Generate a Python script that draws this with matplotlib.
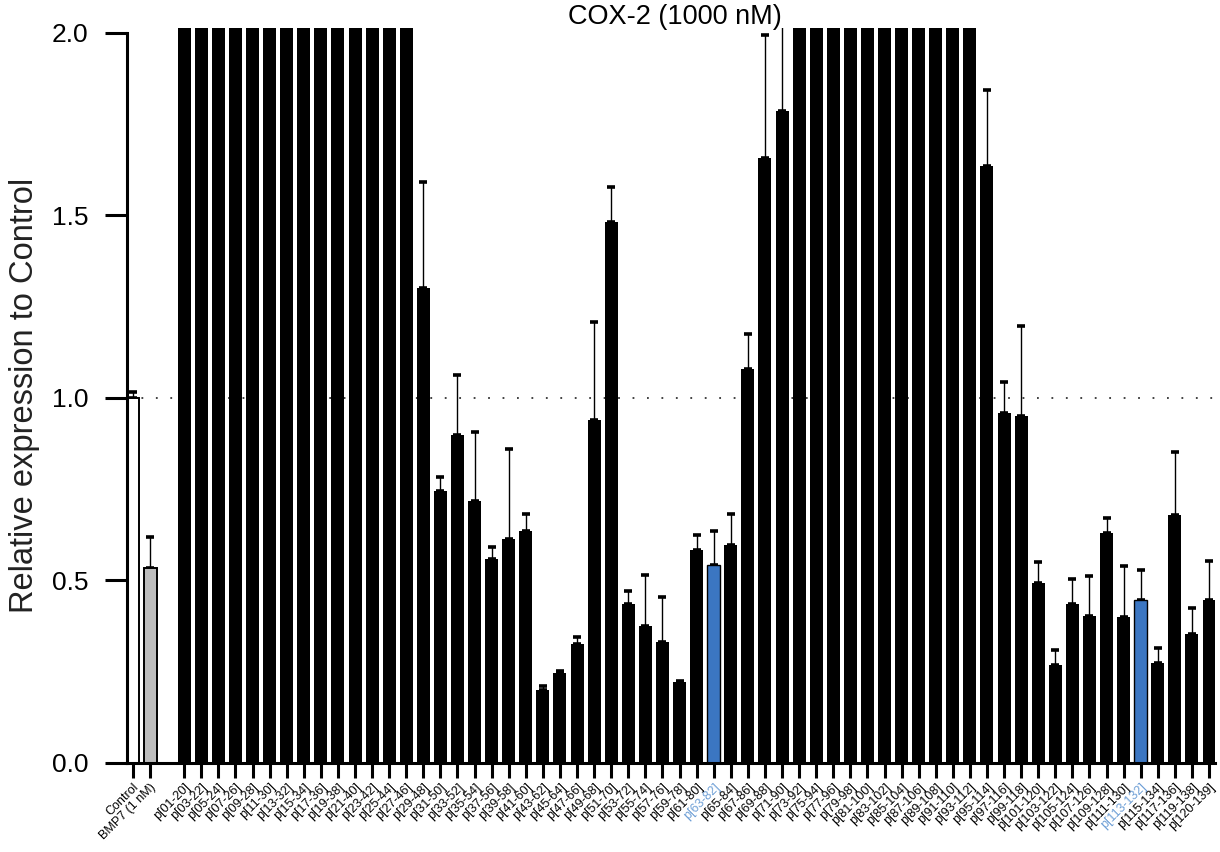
import numpy as np
import matplotlib
matplotlib.use("Agg")
import matplotlib.pyplot as plt

plt.rcParams['font.family'] = ['Liberation Sans', 'DejaVu Sans']

# ---- data -------------------------------------------------------------
control_labels = ["Control", "BMP7 (1 nM)"]
control_means = [1.000, 0.535]
control_sem = [0.017, 0.085]

peptide_labels = [
    "p[01-20]", "p[03-22]", "p[05-24]", "p[07-26]", "p[09-28]", "p[11-30]",
    "p[13-32]", "p[15-34]", "p[17-36]", "p[19-38]", "p[21-40]", "p[23-42]",
    "p[25-44]", "p[27-46]", "p[29-48]", "p[31-50]", "p[33-52]", "p[35-54]",
    "p[37-56]", "p[39-58]", "p[41-60]", "p[43-62]", "p[45-64]", "p[47-66]",
    "p[49-68]", "p[51-70]", "p[53-72]", "p[55-74]", "p[57-76]", "p[59-78]",
    "p[61-80]", "p[63-82]", "p[65-84]", "p[67-86]", "p[69-88]", "p[71-90]",
    "p[73-92]", "p[75-94]", "p[77-96]", "p[79-98]", "p[81-100]", "p[83-102]",
    "p[85-104]", "p[87-106]", "p[89-108]", "p[91-110]", "p[93-112]",
    "p[95-114]", "p[97-116]", "p[99-118]", "p[101-120]", "p[103-122]",
    "p[105-124]", "p[107-126]", "p[109-128]", "p[111-130]", "p[113-132]",
    "p[115-134]", "p[117-136]", "p[119-138]", "p[120-139]",
]

# values above the axis limit are off-scale (drawn clipped at the top)
peptide_means = [
    2.5, 2.5, 2.5, 2.5, 2.5, 2.5,
    2.5, 2.5, 2.5, 2.5, 2.5, 2.5,
    2.5, 2.5, 1.300, 0.745, 0.899, 0.718,
    0.559, 0.613, 0.636, 0.200, 0.246, 0.325,
    0.941, 1.481, 0.436, 0.375, 0.332, 0.222,
    0.584, 0.542, 0.598, 1.079, 1.658, 1.786,
    2.5, 2.5, 2.5, 2.5, 2.5, 2.5,
    2.5, 2.5, 2.5, 2.5, 2.5,
    1.636, 0.960, 0.952, 0.494, 0.268,
    0.435, 0.404, 0.631, 0.401, 0.447,
    0.273, 0.679, 0.353, 0.447,
]
peptide_sem = [
    0, 0, 0, 0, 0, 0,
    0, 0, 0, 0, 0, 0,
    0, 0, 0.292, 0.039, 0.164, 0.190,
    0.033, 0.246, 0.045, 0.011, 0.007, 0.020,
    0.268, 0.098, 0.036, 0.141, 0.122, 0.004,
    0.041, 0.094, 0.085, 0.096, 0.337, 0.500,
    0, 0, 0, 0, 0, 0,
    0, 0, 0, 0, 0,
    0.208, 0.084, 0.246, 0.056, 0.041,
    0.068, 0.109, 0.039, 0.139, 0.082,
    0.042, 0.172, 0.071, 0.106,
]
highlighted = ["p[63-82]", "p[113-132]"]

# ---- styling ------------------------------------------------------------
BLUE = "#3b76c2"
BLUE_TEXT = "#6e9fd6"
GREY = "#bdbdbd"

fig = plt.figure(figsize=(12.2, 8.52), dpi=100)
ax = fig.add_axes([127 / 1220, 89 / 852, (1215 - 127) / 1220, (763 - 27.5) / 852])

# positions: control group, one empty slot, then peptides
ctrl_x = np.arange(len(control_labels))
pep_x = np.arange(len(peptide_labels)) + len(control_labels) + 1
width = 0.76

ax.axhline(1.0, color="#333333", lw=1.3, ls=(0, (1, 7)), zorder=0)

ax.bar(ctrl_x, control_means, width, color=["white", GREY],
       edgecolor="black", linewidth=1.4, zorder=2)
pep_colors = [BLUE if lab in highlighted else "black" for lab in peptide_labels]
pep_lw = [1.0 if lab in highlighted else 0.0 for lab in peptide_labels]
ax.bar(pep_x, peptide_means, width, color=pep_colors,
       edgecolor="black", linewidth=pep_lw, zorder=2)

err_kw = dict(fmt="none", ecolor="black", elinewidth=1.0, capsize=2.6,
              capthick=2.6, zorder=1)
ax.errorbar(ctrl_x, control_means,
            yerr=[np.zeros(len(ctrl_x)), control_sem], **err_kw)
pep_sem = np.array(peptide_sem, dtype=float)
mask = pep_sem > 0
ax.errorbar(pep_x[mask], np.array(peptide_means)[mask],
            yerr=[np.zeros(mask.sum()), pep_sem[mask]], **err_kw)

ax.set_xlim(-0.35, pep_x[-1] + 0.35)
ax.set_ylim(0, 2.015)
ax.set_yticks([0.0, 0.5, 1.0, 1.5, 2.0])
ax.set_yticklabels(["0.0", "0.5", "1.0", "1.5", "2.0"], fontsize=19)
ax.spines["left"].set_bounds(0, 2.0)
for s in ["top", "right"]:
    ax.spines[s].set_visible(False)
for s in ["left", "bottom"]:
    ax.spines[s].set_linewidth(2.2)

ax.tick_params(axis="y", length=16, width=2.2, pad=12)
ax.tick_params(axis="x", length=11, width=2.2, pad=2)

all_x = np.concatenate([ctrl_x, pep_x])
all_labels = control_labels + peptide_labels
ax.set_xticks(all_x)
ax.set_xticklabels(all_labels, rotation=45, ha="right",
                   rotation_mode="anchor", fontsize=9)
for tick, lab in zip(ax.xaxis.get_major_ticks(), all_labels):
    if lab in highlighted:
        tick.tick1line.set_color(BLUE)
        tick.label1.set_color(BLUE_TEXT)

ax.set_ylabel("Relative expression to Control", fontsize=23.5, color="#222222",
              labelpad=8)
fig.text(675 / 1220, 1 - 17 / 852, "COX-2 (1000 nM)", fontsize=19.5,
         ha="center", va="center")

fig.savefig("out.png", dpi=100, facecolor="white")
